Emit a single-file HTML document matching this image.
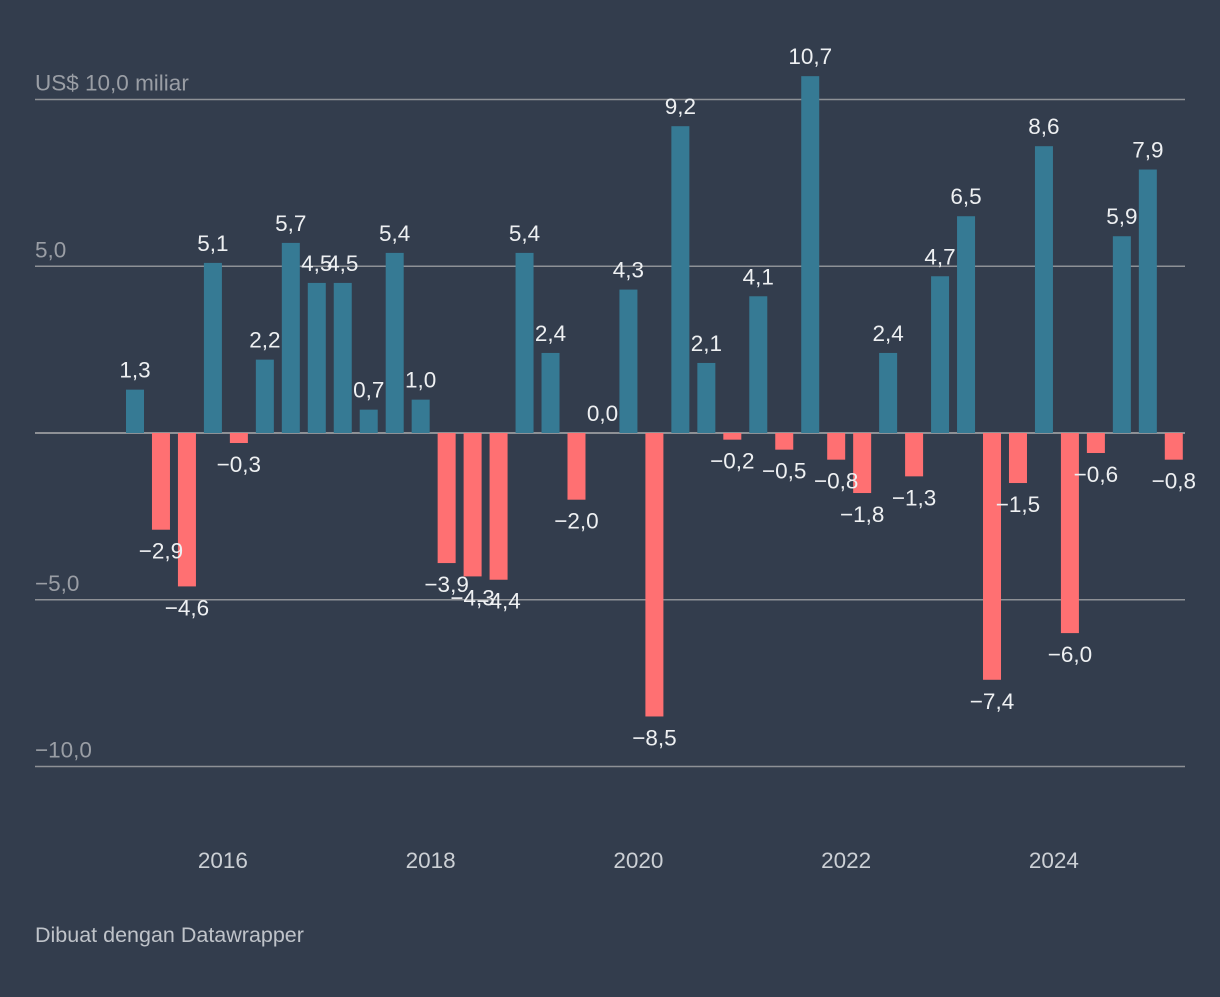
<!DOCTYPE html>
<html><head><meta charset="utf-8"><style>
html,body{margin:0;padding:0;background:#333d4d;}
svg text{font-family:"Liberation Sans",Arial,sans-serif;}
</style></head><body>
<svg width="1220" height="992" xmlns="http://www.w3.org/2000/svg">
<rect width="1220" height="992" fill="#333d4d"/>
<g id="grid"></g><g id="bars"></g><g id="labels"></g><g id="years"></g>
<text x="35" y="942" font-size="21.5" fill="#bfc3c9">Dibuat dengan Datawrapper</text>
</svg>
<script>
const values=[1.3,-2.9,-4.6,5.1,-0.3,2.2,5.7,4.5,4.5,0.7,5.4,1.0,-3.9,-4.3,-4.4,5.4,2.4,-2.0,0.0,4.3,-8.5,9.2,2.1,-0.2,4.1,-0.5,10.7,-0.8,-1.8,2.4,-1.3,4.7,6.5,-7.4,-1.5,8.6,-6.0,-0.6,5.9,7.9,-0.8];
const yTicks=[10,5,0,-5,-10];
const yTickLabels=["US$ 10,0 miliar","5,0","","\u22125,0","\u221210,0"];
const years=[2016,2018,2020,2022,2024];
const NS="http://www.w3.org/2000/svg";
const y=v=>433-v*33.35;
const x=i=>135+i*25.97;
const xd=t=>132+(t-2015.125)*4*25.97;
const fmt=v=>(v<0?"\u2212":"")+Math.abs(v).toFixed(1).replace(".",",");
function mk(tag,attrs,parent){const e=document.createElementNS(NS,tag);for(const k in attrs)e.setAttribute(k,attrs[k]);document.getElementById(parent).appendChild(e);return e;}
yTicks.forEach((t,i)=>{
  const l=mk("line",{x1:35,x2:1185,y1:y(t),y2:y(t),stroke:"#8e9196","stroke-width":t===0?2:1.5},"grid");
  
  
  if(yTickLabels[i]){const tx=mk("text",{x:35,y:y(t)-9,"font-size":22.5,fill:"#9a9ea5"},"grid");tx.textContent=yTickLabels[i];
  
  }
});
values.forEach((v,i)=>{
  const top=Math.min(y(v),y(0)),h=Math.abs(y(v)-y(0));
  const r=mk("rect",{x:x(i)-9,y:top,width:18,height:h,fill:v>=0?"#367a94":"#ff7072"},"bars");
  
  
  const ty=v>=0?y(v)-12:y(v)+29;
  const t=mk("text",{x:x(i),y:ty,"font-size":22.5,fill:"#eef0f2","text-anchor":"middle"},"labels");
  t.textContent=fmt(v);
  
  
});
years.forEach(yr=>{
  const t=mk("text",{x:xd(yr),y:868,"font-size":22.5,fill:"#ccd0d5","text-anchor":"middle"},"years");
  t.textContent=yr;
  
  
});
</script>
</body></html>
